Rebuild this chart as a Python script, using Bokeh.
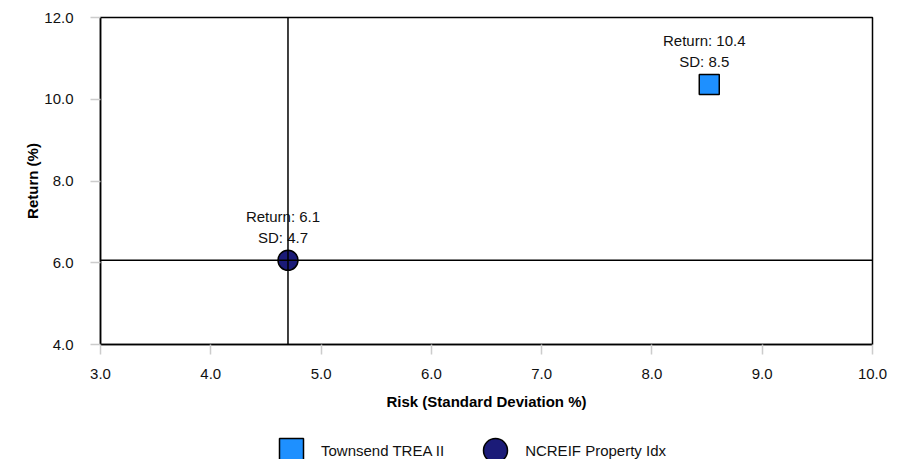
from bokeh.plotting import figure
from bokeh.layouts import column
from bokeh.models import (Range1d, FixedTicker, NumeralTickFormatter, Span,
                          Legend, LegendItem, ColumnDataSource)
from bokeh.core.properties import value
from bokeh.embed import file_html
from bokeh.resources import INLINE

# ---- data ----
series = ["Townsend TREA II", "NCREIF Property Idx"]
risk_sd = [8.52, 4.70]
returns = [10.36, 6.06]
fill_colors = ["#1E90FF", "#1B1B78"]
markers = ["square", "circle"]
x_ticks = [3, 4, 5, 6, 7, 8, 9, 10]
y_ticks = [4, 6, 8, 10, 12]
benchmark_index = 1

FONT = "Liberation Sans"
TXT = "#111111"

p = figure(width=902, height=425, output_backend="svg", toolbar_location=None,
           x_range=Range1d(3, 10), y_range=Range1d(4, 12),
           min_border_left=100, min_border_right=30, min_border_top=17,
           min_border_bottom=81)
p.grid.visible = False
p.outline_line_color = "black"
p.outline_line_width = 1.5
p.background_fill_color = "white"
p.border_fill_color = "white"

for ax in (p.xaxis[0], p.yaxis[0]):
    ax.axis_line_color = "black"
    ax.axis_line_width = 1.5
    ax.major_tick_line_color = "#cccccc"
    ax.major_tick_line_width = 1.5
    ax.major_tick_out = 10
    ax.major_tick_in = 0
    ax.minor_tick_line_color = None
    ax.major_label_text_font = FONT
    ax.major_label_text_font_size = "15px"
    ax.major_label_text_color = TXT
    ax.axis_label_text_font = FONT
    ax.axis_label_text_font_size = "15px"
    ax.axis_label_text_font_style = "bold"
    ax.axis_label_text_color = "black"
    ax.formatter = NumeralTickFormatter(format="0.0")

p.xaxis.ticker = FixedTicker(ticks=x_ticks)
p.yaxis.ticker = FixedTicker(ticks=y_ticks)
p.xaxis.axis_label = "Risk (Standard Deviation %)"
p.yaxis.axis_label = "Return (%)"
p.xaxis.major_label_standoff = 14
p.yaxis.major_label_standoff = 17
p.xaxis.axis_label_standoff = 11
p.yaxis.axis_label_standoff = 0

# crosshair through benchmark
p.add_layout(Span(location=risk_sd[benchmark_index], dimension="height",
                  line_color="black", line_width=1.5))
p.add_layout(Span(location=returns[benchmark_index], dimension="width",
                  line_color="black", line_width=1.5))

# legend strip below the chart (its own ranges keep the points off-view)
lg = figure(width=902, height=34, output_backend="svg", toolbar_location=None,
            x_range=Range1d(-2, -1), y_range=Range1d(-2, -1),
            x_axis_type=None, y_axis_type=None,
            min_border_left=0, min_border_right=0, min_border_top=0,
            min_border_bottom=0)
lg.grid.visible = False
lg.outline_line_color = None

items = []
for i, name in enumerate(series):
    src = ColumnDataSource(dict(x=[risk_sd[i]], y=[returns[i]],
                                t1=[f"Return: {returns[i]:.1f}"],
                                t2=[f"SD: {risk_sd[i]:.1f}"]))
    p.scatter("x", "y", source=src, marker=markers[i], size=20,
              fill_color=fill_colors[i], line_color="black", line_width=1.5)
    p.text("x", "y", text="t1", source=src, x_offset=-5, y_offset=-44,
           text_align="center", text_baseline="middle",
           text_font=value(FONT), text_font_size="15px", text_color=TXT)
    p.text("x", "y", text="t2", source=src, x_offset=-5, y_offset=-23,
           text_align="center", text_baseline="middle",
           text_font=value(FONT), text_font_size="15px", text_color=TXT)
    r = lg.scatter("x", "y", source=src, marker=markers[i], size=20,
                   fill_color=fill_colors[i], line_color="black", line_width=1.5)
    items.append(LegendItem(label=name, renderers=[r]))

legend = Legend(items=items, orientation="horizontal", location=(161, -21),
                glyph_width=60, glyph_height=60, label_standoff=0,
                spacing=21, padding=0, margin=0,
                border_line_color=None, background_fill_alpha=0,
                label_text_font=FONT, label_text_font_size="15px",
                label_text_color=TXT)
lg.add_layout(legend, "center")

layout = column(p, lg, spacing=0)
open("out.html", "w").write(file_html(layout, INLINE))
